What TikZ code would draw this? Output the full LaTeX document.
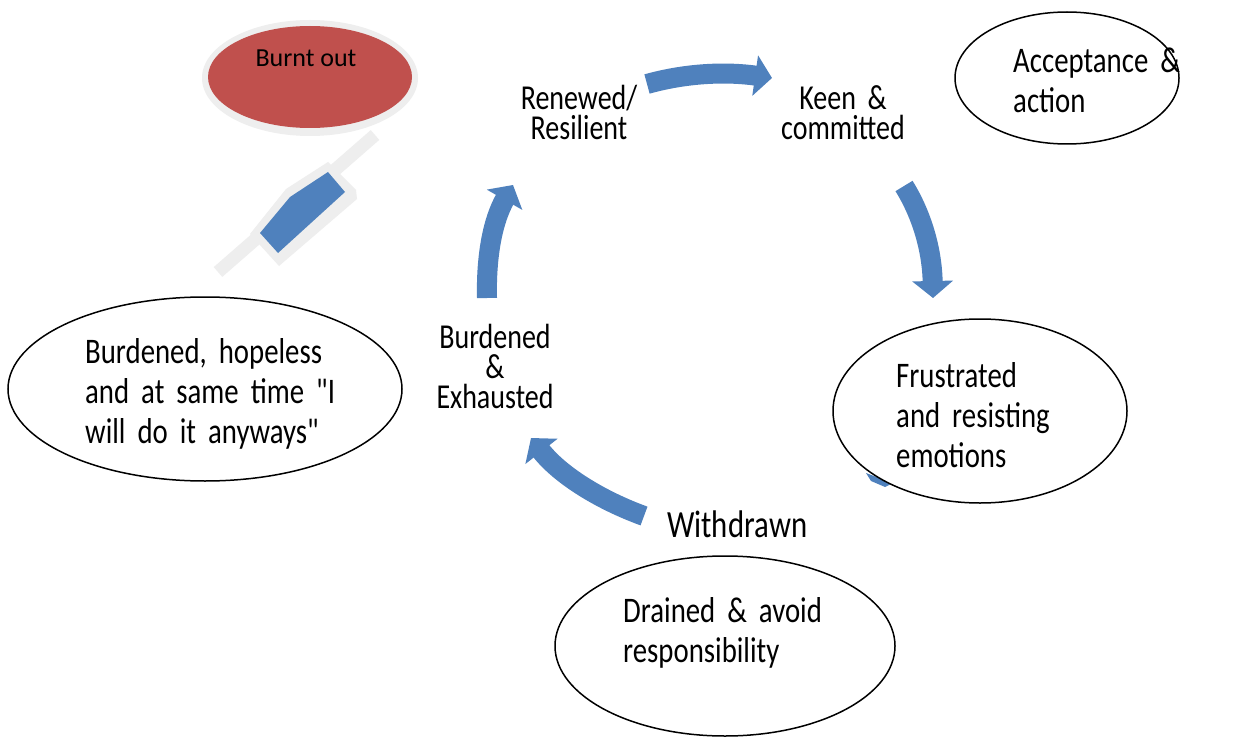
\documentclass[tikz,border=0pt]{standalone}
\usepackage{fontspec}
\setmainfont{Carlito}[FakeStretch=0.8, Ligatures=TeXOff]
\newfontfamily\plainfont{Carlito}
\usetikzlibrary{arrows.meta}
\definecolor{arrowblue}{HTML}{4F81BD}
\definecolor{burnred}{HTML}{C0504D}
\definecolor{halogray}{HTML}{EEEEEE}
\newcommand\ovalfont{\fontsize{36}{40}\selectfont\fontdimen2\font=6.5pt\fontdimen3\font=0pt}
\newcommand\labelfont{\fontsize{35}{30}\selectfont\fontdimen2\font=6.3pt\fontdimen3\font=0pt}
\tikzset{
  oval/.style={draw=black, line width=1.5pt, fill=white},
  ovaltext/.style={anchor=base west, inner sep=0pt, text width=330pt, align=left,
    font=\ovalfont},
  cyclelabel/.style={anchor=base, inner sep=0pt, text width=220pt, align=center,
    font=\labelfont},
  blockarrow/.style={draw=arrowblue, line width=20pt, line cap=butt,
    -{Triangle[length=17pt,width=40pt]}},
}
\begin{document}
\begin{tikzpicture}[x=1pt,y=-1pt]
\useasboundingbox (0,0) rectangle (1236,738);
\fill[white] (0,0) rectangle (1236,738);

% Burnt out with halo
\fill[halogray] (310,78) ellipse [x radius=108, y radius=58];
\fill[burnred] (310,77) ellipse [x radius=102, y radius=51];
\node[anchor=base, inner sep=0pt, font=\plainfont\fontsize{26}{30}\selectfont] (burnt) at (306,67) {Burnt out};

% gray bar and blue block
\draw[halogray, line width=13pt, line cap=butt] (218,272) -- (375,135);
\fill[halogray, line join=round] (250,234) -- (286,189) -- (328,162) -- (356,190) -- (357,199) -- (279,266) -- cycle;
\fill[arrowblue] (260,233) -- (290,197) -- (328,172) -- (345,192) -- (278,253) -- cycle;

% cycle labels
\node[cyclelabel] (renewed) at (579,110) {Renewed/\\Resilient};
\node[cyclelabel] (keen) at (843,110) {Keen \&\\committed};
\node[cyclelabel] (burdened) at (495,348) {Burdened\\\&\\Exhausted};
\node[anchor=base west, inner sep=0pt, font=\fontsize{38.5}{40}\selectfont] (withdrawn) at (667,537) {Withdrawn};

% arrow end points
\coordinate (a1s) at (647,84);  \coordinate (a1e) at (772,78);
\coordinate (a2s) at (904,186); \coordinate (a2e) at (933,298);
\coordinate (a3s) at (644,516); \coordinate (a3e) at (531,438);
\coordinate (a4s) at (487,298); \coordinate (a4e) at (513,185);

\draw[blockarrow] (a1s) .. controls (690,72) and (730,72) .. (a1e);
\draw[blockarrow] (a2s) .. controls (922,215) and (932,250) .. (a2e);
\draw[blockarrow] (a3s) .. controls (600,500) and (560,475) .. (a3e);
\draw[blockarrow] (a4s) .. controls (486,255) and (493,220) .. (a4e);

% small visible blue piece below the Frustrated ellipse
\fill[arrowblue] (866,473) -- (879,478) -- (891,484) -- (885,487) -- (871,481) -- cycle;

% ellipses
\draw[oval] (1067,78) ellipse [x radius=112, y radius=66];
\draw[oval] (980,411) ellipse [x radius=147, y radius=92];
\draw[oval] (205,389) ellipse [x radius=197, y radius=92];
\draw[oval] (725,646) ellipse [x radius=170, y radius=90];

\node[ovaltext] (accept) at (1013,73) {Acceptance \&\\action};
\node[ovaltext] (frustr) at (896,387) {Frustrated\\and resisting\\emotions};
\node[ovaltext] (hopeless) at (85,363) {Burdened, hopeless\\and at same time "I\\will do it anyways"};
\node[ovaltext] (drained) at (623,622) {Drained \& avoid\\responsibility};
\end{tikzpicture}
\end{document}
